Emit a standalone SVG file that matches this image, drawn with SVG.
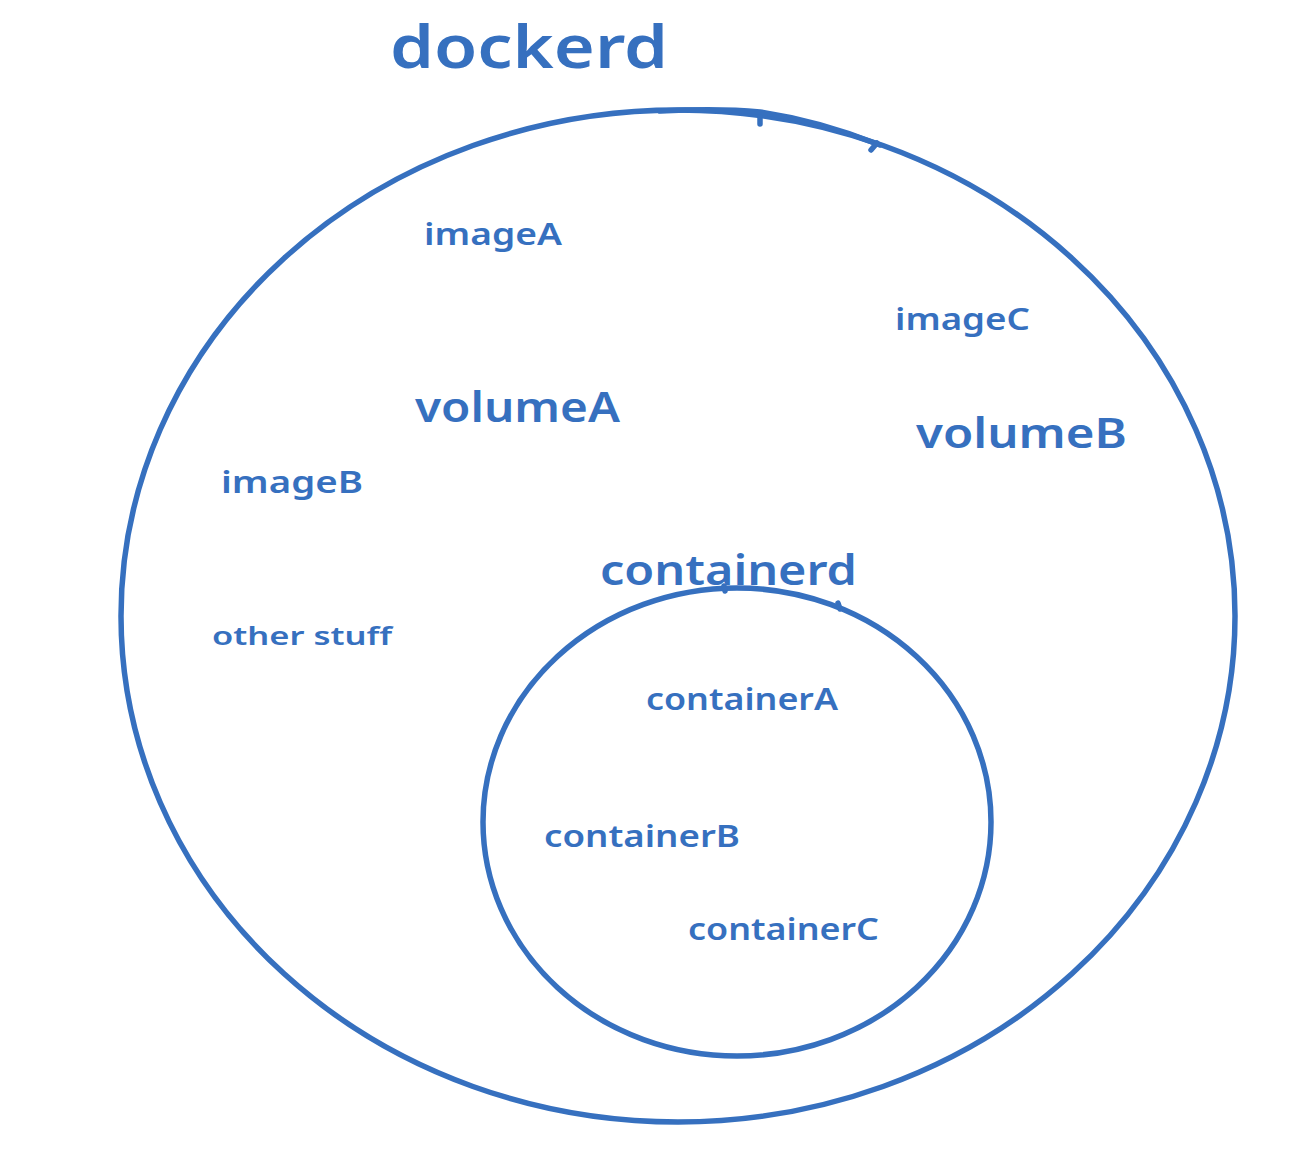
<svg xmlns="http://www.w3.org/2000/svg" width="1310" height="1154" viewBox="0 0 1310 1154">
<style>
.ring{fill:none;stroke:#3670bf;stroke-width:5.5;stroke-linecap:round}
.t{fill:#3670bf;font-family:"Noto Sans","Liberation Sans",sans-serif;font-weight:600}
</style>
<rect width="1310" height="1154" fill="#ffffff"/>
<g id="dockerd">
<ellipse class="ring" cx="678" cy="616" rx="557" ry="506"/>
<path class="ring" d="M660 111 Q720 108 760 112 Q820 121 880 145" stroke-width="4"/>
<path class="ring" d="M760 117 L760 124 M877 143 L871 150" stroke-width="4"/>
<text class="t" x="390" y="68" font-size="60" textLength="278" lengthAdjust="spacingAndGlyphs">dockerd</text>
</g>
<g id="imageA"><text class="t" x="424" y="245" font-size="30" textLength="138" lengthAdjust="spacingAndGlyphs">imageA</text></g>
<g id="imageC"><text class="t" x="895" y="330" font-size="30" textLength="135" lengthAdjust="spacingAndGlyphs">imageC</text></g>
<g id="volumeA"><text class="t" x="415" y="422" font-size="42" textLength="205" lengthAdjust="spacingAndGlyphs">volumeA</text></g>
<g id="volumeB"><text class="t" x="916" y="448" font-size="42" textLength="211" lengthAdjust="spacingAndGlyphs">volumeB</text></g>
<g id="imageB"><text class="t" x="221" y="493" font-size="30" textLength="142" lengthAdjust="spacingAndGlyphs">imageB</text></g>
<g id="otherstuff"><text class="t" x="212" y="645" font-size="26" textLength="180" lengthAdjust="spacingAndGlyphs">other stuff</text></g>
<g id="containerd">
<ellipse class="ring" cx="737" cy="822" rx="254" ry="234"/>
<path class="ring" d="M724 586 L725 591 M838 603 L840 609" stroke-width="4"/>
<text class="t" x="600" y="585" font-size="42" textLength="257" lengthAdjust="spacingAndGlyphs">containerd</text>
</g>
<g id="containerA"><text class="t" x="646" y="710" font-size="30" textLength="192" lengthAdjust="spacingAndGlyphs">containerA</text></g>
<g id="containerB"><text class="t" x="544" y="847" font-size="30" textLength="196" lengthAdjust="spacingAndGlyphs">containerB</text></g>
<g id="containerC"><text class="t" x="688" y="940" font-size="30" textLength="191" lengthAdjust="spacingAndGlyphs">containerC</text></g>
<g id="connectors"></g>
</svg>
